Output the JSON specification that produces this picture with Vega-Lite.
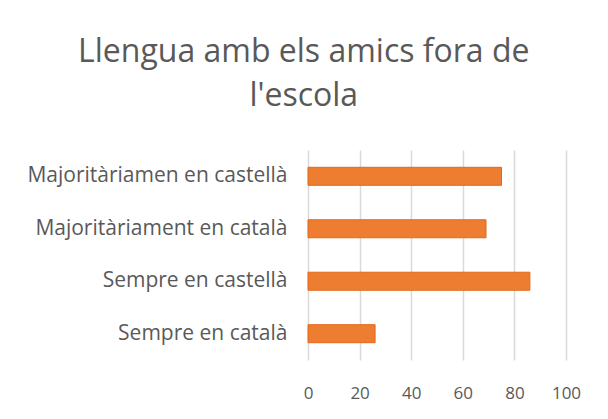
{
  "$schema": "https://vega.github.io/schema/vega-lite/v6.json",
  "width": 258,
  "height": 210,
  "autosize": {"type": "none"},
  "padding": {"left": 308, "top": 150, "right": 42, "bottom": 59},
  "background": "white",
  "title": {
    "text": ["Llengua amb els amics fora de", "l'escola"],
    "font": "Open Sans",
    "fontSize": 32,
    "fontWeight": "normal",
    "color": "#595959",
    "anchor": "middle",
    "frame": "bounds",
    "lineHeight": 44,
    "offset": 37
  },
  "data": {
    "values": [
      {"categoria": "Majoritàriamen en castellà", "valor": 75},
      {"categoria": "Majoritàriament en català", "valor": 69},
      {"categoria": "Sempre en castellà", "valor": 86},
      {"categoria": "Sempre en català", "valor": 26}
    ]
  },
  "mark": {"type": "bar", "color": "#ed7d31", "stroke": "#e2681a", "strokeWidth": 1},
  "encoding": {
    "y": {
      "field": "categoria",
      "type": "nominal",
      "sort": ["Majoritàriamen en castellà", "Majoritàriament en català", "Sempre en castellà", "Sempre en català"],
      "scale": {"paddingInner": 0.657, "paddingOuter": 0.33},
      "axis": {
        "title": null,
        "domain": false,
        "ticks": false,
        "tickSize": 0,
        "labelPadding": 21,
        "labelFont": "Open Sans",
        "labelFontSize": 21,
        "labelColor": "#595959",
        "labelLimit": 400
      }
    },
    "x": {
      "field": "valor",
      "type": "quantitative",
      "scale": {"domain": [0, 100], "nice": false},
      "axis": {
        "title": null,
        "values": [0, 20, 40, 60, 80, 100],
        "domain": false,
        "ticks": false,
        "tickSize": 0,
        "grid": true,
        "gridColor": "#d9d9d9",
        "gridWidth": 1.5,
        "labelPadding": 33,
        "labelBaseline": "middle",
        "labelFont": "Open Sans",
        "labelFontSize": 17,
        "labelColor": "#595959",
        "labelFlush": false
      }
    }
  },
  "config": {"view": {"stroke": null}}
}
